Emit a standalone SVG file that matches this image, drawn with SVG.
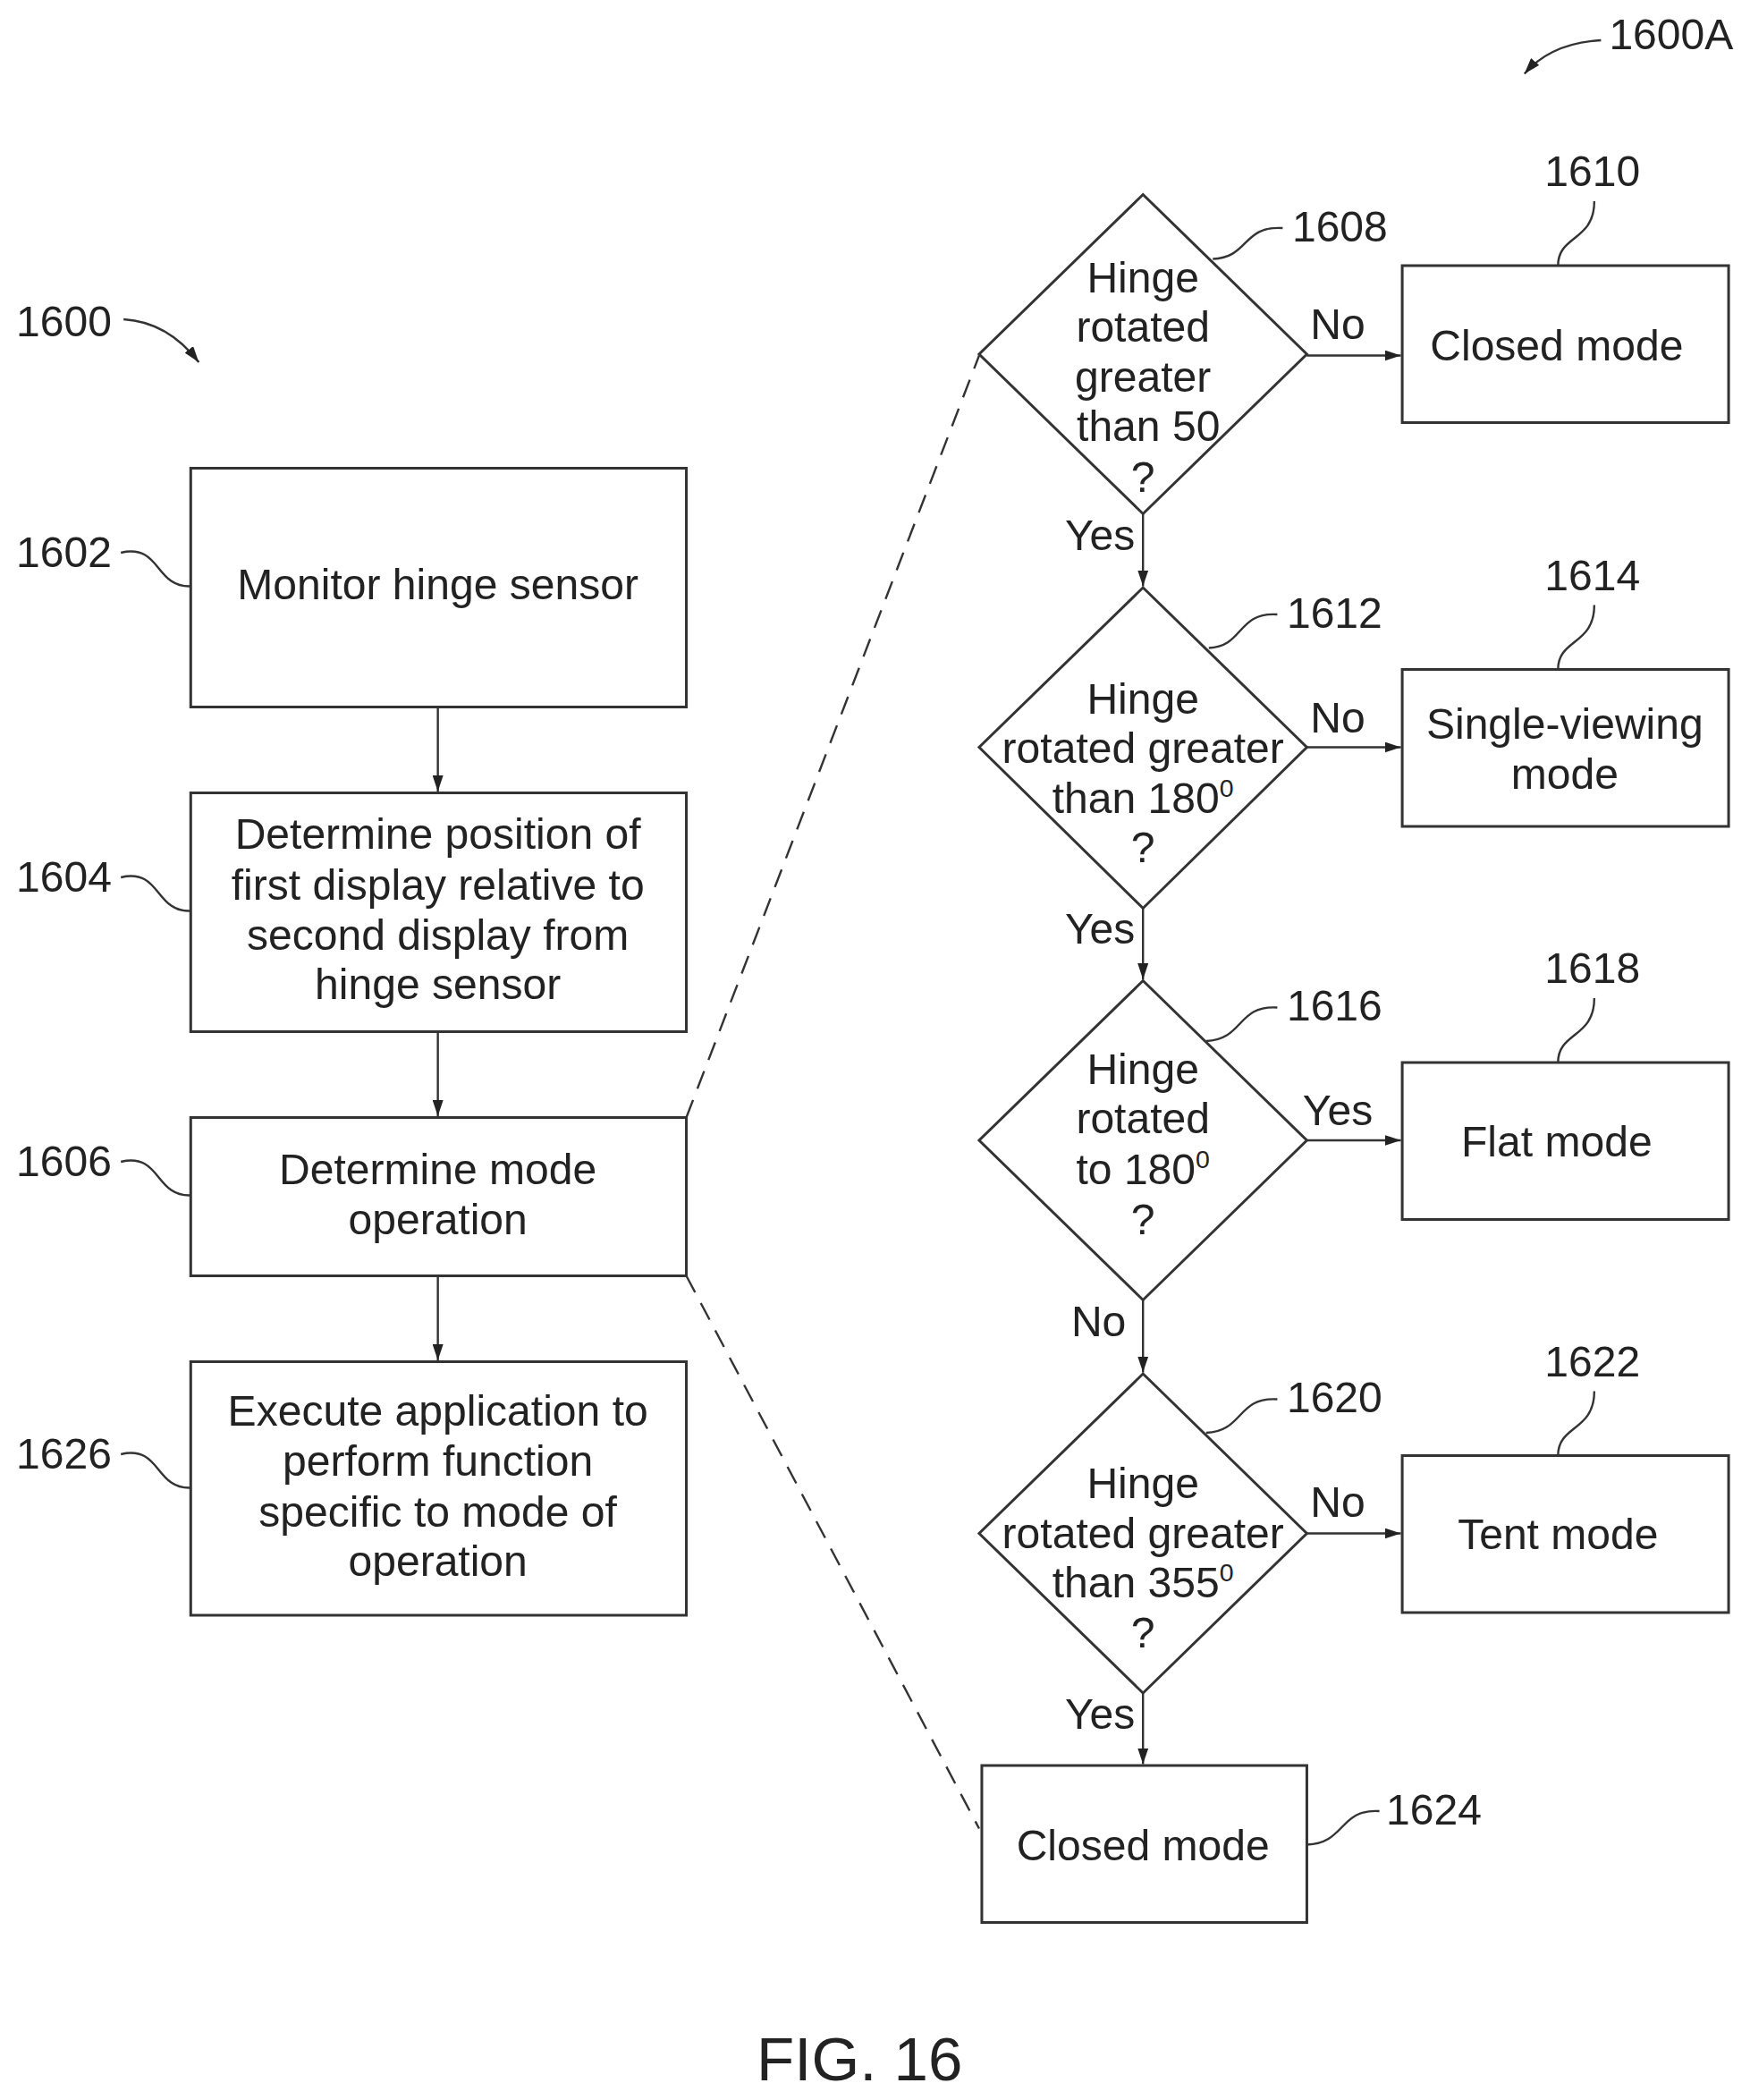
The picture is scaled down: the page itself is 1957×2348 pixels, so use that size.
<svg xmlns="http://www.w3.org/2000/svg" width="1957" height="2348" viewBox="0 0 1957 2348">
<defs>
<marker id="ah" markerWidth="12" markerHeight="8" refX="12" refY="4" orient="auto" markerUnits="userSpaceOnUse"><path d="M0,0 L12,4 L0,8 Z" fill="#222"/></marker>
<style>
.b{fill:#fff;stroke:#333;stroke-width:2}
.l{stroke:#333;stroke-width:1.6;fill:none}
.d{stroke:#333;stroke-width:1.6;fill:none;stroke-dasharray:14,9}
text{font-family:"Liberation Sans",Arial,sans-serif;font-size:32px;fill:#222}
.c{text-anchor:middle}
</style>
</defs>
<rect width="1957" height="2348" fill="#fff"/>
<g transform="scale(1.502 1.5)">
<g id="connectors">
<line class="l" x1="326" y1="527" x2="326" y2="590" marker-end="url(#ah)"/>
<line class="l" x1="326" y1="769" x2="326" y2="832" marker-end="url(#ah)"/>
<line class="l" x1="326" y1="951" x2="326" y2="1014" marker-end="url(#ah)"/>
<line class="d" x1="511" y1="833" x2="729" y2="265"/>
<line class="d" x1="511" y1="951" x2="729" y2="1363"/>
<line class="l" x1="973" y1="265" x2="1043" y2="265" marker-end="url(#ah)"/>
<line class="l" x1="973" y1="557" x2="1043" y2="557" marker-end="url(#ah)"/>
<line class="l" x1="973" y1="850" x2="1043" y2="850" marker-end="url(#ah)"/>
<line class="l" x1="973" y1="1143" x2="1043" y2="1143" marker-end="url(#ah)"/>
<line class="l" x1="851" y1="383" x2="851" y2="437" marker-end="url(#ah)"/>
<line class="l" x1="851" y1="676" x2="851" y2="730" marker-end="url(#ah)"/>
<line class="l" x1="851" y1="969" x2="851" y2="1023" marker-end="url(#ah)"/>
<line class="l" x1="851" y1="1262" x2="851" y2="1315" marker-end="url(#ah)"/>
<text x="996" y="253" class="c">No</text>
<text x="996" y="546" class="c">No</text>
<text x="996" y="839" class="c">Yes</text>
<text x="996" y="1131" class="c">No</text>
<text x="819" y="410" class="c">Yes</text>
<text x="819" y="703" class="c">Yes</text>
<text x="818" y="996" class="c">No</text>
<text x="819" y="1289" class="c">Yes</text>
</g>
<g id="n1602"><rect class="b" x="142" y="349" width="369" height="178"/><text x="326" y="447" class="c">Monitor hinge sensor</text></g>
<g id="n1604"><rect class="b" x="142" y="591" width="369" height="178"/><text class="c" x="326" y="633">Determine position of</text><text class="c" x="326" y="671">first display relative to</text><text class="c" x="326" y="708">second display from</text><text class="c" x="326" y="745">hinge sensor</text></g>
<g id="n1606"><rect class="b" x="142" y="833" width="369" height="118"/><text class="c" x="326" y="883">Determine mode</text><text class="c" x="326" y="920">operation</text></g>
<g id="n1626"><rect class="b" x="142" y="1015" width="369" height="189"/><text class="c" x="326" y="1063">Execute application to</text><text class="c" x="326" y="1100">perform function</text><text class="c" x="326" y="1138">specific to mode of</text><text class="c" x="326" y="1175">operation</text></g>
<g id="n1608"><path class="b" d="M851,145 L973,264 L851,383 L729,264 Z"/><text class="c" x="851" y="218">Hinge</text><text class="c" x="851" y="255">rotated</text><text class="c" x="851" y="292">greater</text><text class="c" x="855" y="329">than 50</text><text class="c" x="851" y="367">?</text></g>
<g id="n1612"><path class="b" d="M851,438 L973,557 L851,677 L729,557 Z"/><text class="c" x="851" y="532">Hinge</text><text class="c" x="851" y="569">rotated greater</text><text class="c" x="851" y="606">than 180<tspan font-size="19" dy="-12">0</tspan></text><text class="c" x="851" y="643">?</text></g>
<g id="n1616"><path class="b" d="M851,731 L973,850 L851,969 L729,850 Z"/><text class="c" x="851" y="808">Hinge</text><text class="c" x="851" y="845">rotated</text><text class="c" x="851" y="883">to 180<tspan font-size="19" dy="-12">0</tspan></text><text class="c" x="851" y="920">?</text></g>
<g id="n1620"><path class="b" d="M851,1024 L973,1143 L851,1262 L729,1143 Z"/><text class="c" x="851" y="1117">Hinge</text><text class="c" x="851" y="1154">rotated greater</text><text class="c" x="851" y="1191">than 355<tspan font-size="19" dy="-12">0</tspan></text><text class="c" x="851" y="1228">?</text></g>
<g id="n1610"><rect class="b" x="1044" y="198" width="243" height="117"/><text class="c" x="1159" y="269">Closed mode</text></g>
<g id="n1614"><rect class="b" x="1044" y="499" width="243" height="117"/><text class="c" x="1165" y="551">Single-viewing</text><text class="c" x="1165" y="588">mode</text></g>
<g id="n1618"><rect class="b" x="1044" y="792" width="243" height="117"/><text class="c" x="1159" y="862">Flat mode</text></g>
<g id="n1622"><rect class="b" x="1044" y="1085" width="243" height="117"/><text class="c" x="1160" y="1155">Tent mode</text></g>
<g id="n1624"><rect class="b" x="731" y="1316" width="242" height="117"/><text class="c" x="851" y="1387">Closed mode</text></g>
<g id="labels">
<text x="1198" y="37">1600A</text><path class="l" d="M1192,30 Q1155,32 1135,55" marker-end="url(#ah)"/>
<text x="12" y="251">1600</text><path class="l" d="M92,238 Q125,240 148,270" marker-end="url(#ah)"/>
<text x="12" y="423">1602</text><path class="l" d="M90,412 C120,405 115,438 142,437"/>
<text x="12" y="665">1604</text><path class="l" d="M90,654 C120,647 115,680 142,679"/>
<text x="12" y="877">1606</text><path class="l" d="M90,866 C120,859 115,892 142,891"/>
<text x="12" y="1095">1626</text><path class="l" d="M90,1084 C120,1077 115,1110 142,1109"/>
<text x="962" y="180">1608</text><path class="l" d="M955,170 C925,168 930,192 903,193"/>
<text x="958" y="468">1612</text><path class="l" d="M951,458 C921,456 926,482 900,483"/>
<text x="958" y="761">1616</text><path class="l" d="M951,751 C921,749 926,775 898,776"/>
<text x="958" y="1053">1620</text><path class="l" d="M951,1043 C921,1041 926,1067 898,1068"/>
<text x="1150" y="139">1610</text><path class="l" d="M1187,150 C1187,180 1160,175 1160,198"/>
<text x="1150" y="440">1614</text><path class="l" d="M1187,451 C1187,481 1160,476 1160,499"/>
<text x="1150" y="733">1618</text><path class="l" d="M1187,744 C1187,774 1160,769 1160,792"/>
<text x="1150" y="1026">1622</text><path class="l" d="M1187,1037 C1187,1067 1160,1062 1160,1085"/>
<text x="1032" y="1360">1624</text><path class="l" d="M1027,1350 C997,1348 1002,1374 973,1375"/>
<text x="640" y="1551" class="c" style="font-size:46px">FIG. 16</text>
</g>
</g>
</svg>
